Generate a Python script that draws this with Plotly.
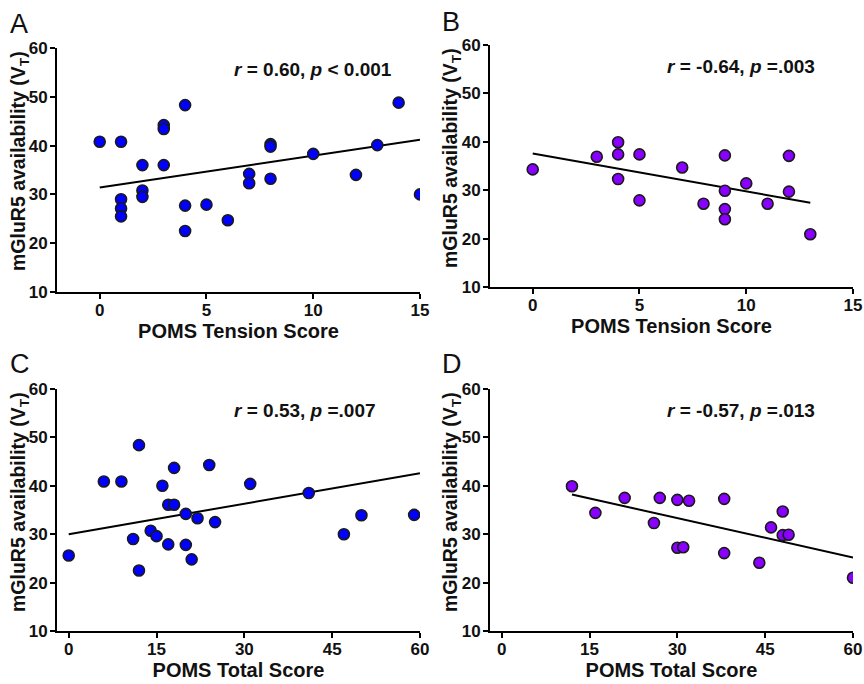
import plotly.graph_objects as go

# Panel A: POMS Tension vs mGluR5 (blue group)
a_x = [0, 1, 1, 1, 1, 2, 2, 2, 3, 3, 3, 4, 4, 4, 5, 6, 7, 7, 8, 8, 8, 10, 12, 13, 14, 15]
a_y = [40.8, 40.8, 29.0, 27.1, 25.5, 36.0, 30.8, 29.5, 44.2, 43.4, 36.0, 48.3, 27.7, 22.5,
       27.9, 24.7, 34.2, 32.3, 40.3, 39.8, 33.2, 38.3, 34.0, 40.1, 48.8, 30.0]
# Panel B: POMS Tension vs mGluR5 (purple group)
b_x = [0, 3, 4, 4, 4, 5, 5, 7, 8, 9, 9, 9, 9, 10, 11, 12, 12, 13]
b_y = [34.3, 36.9, 39.9, 37.4, 32.3, 37.4, 27.9, 34.7, 27.2, 37.2, 29.9, 26.1, 24.0,
       31.4, 27.2, 37.1, 29.7, 20.9]
# Panel C: POMS Total vs mGluR5 (blue group)
c_x = [0, 6, 9, 12, 12, 11, 14, 15, 16, 17, 18, 18, 17, 20, 20, 21, 22, 24, 25, 31, 41, 47, 50, 59]
c_y = [25.6, 40.9, 40.9, 48.4, 22.5, 29.0, 30.7, 29.6, 40.0, 36.1, 36.1, 43.7, 27.9, 34.2,
       27.8, 24.8, 33.3, 44.3, 32.5, 40.4, 38.5, 30.0, 33.9, 34.0]
# Panel D: POMS Total vs mGluR5 (purple group)
d_x = [12, 16, 21, 26, 27, 30, 32, 30, 31, 38, 38, 44, 46, 48, 48, 49, 60]
d_y = [39.9, 34.4, 37.5, 32.3, 37.5, 37.1, 36.9, 27.2, 27.3, 37.3, 26.1, 24.1, 31.4,
       34.7, 29.8, 29.9, 21.0]

# Regression lines as drawn (endpoints)
fit_a_x, fit_a_y = [0, 15], [31.4, 41.2]
fit_b_x, fit_b_y = [0, 13], [37.6, 27.4]
fit_c_x, fit_c_y = [0, 60], [30.0, 42.6]
fit_d_x, fit_d_y = [12, 60], [38.2, 25.2]

stats = ["<i>r</i> = 0.60, <i>p</i> < 0.001",
         "<i>r</i> = -0.64, <i>p</i> =.003",
         "<i>r</i> = 0.53, <i>p</i> =.007",
         "<i>r</i> = -0.57, <i>p</i> =.013"]
letters = ["A", "B", "C", "D"]
x_titles = ["POMS Tension Score", "POMS Tension Score", "POMS Total Score", "POMS Total Score"]
y_title = "mGluR5 availability (V<sub>T</sub>)"
x_ranges = [[-2, 15], [-2, 15], [-2, 60], [-2, 60]]
x_ticks = [[0, 5, 10, 15], [0, 5, 10, 15], [0, 15, 30, 45, 60], [0, 15, 30, 45, 60]]
y_ticks = [10, 20, 30, 40, 50, 60]

BLUE = "#0000FF"
PURPLE = "#8A00FF"
colors = [BLUE, PURPLE, BLUE, PURPLE]
datasets = [(a_x, a_y), (b_x, b_y), (c_x, c_y), (d_x, d_y)]
fits = [(fit_a_x, fit_a_y), (fit_b_x, fit_b_y), (fit_c_x, fit_c_y), (fit_d_x, fit_d_y)]

W, H = 864, 684
# plot-area boxes in pixels: (left, right, top, bottom)
boxes = [(57, 420, 48, 292), (490, 853, 45, 287), (57, 420, 389, 631), (490, 853, 389, 631)]
letter_pos = [(8, 24), (440, 22), (8, 364), (440, 364)]
ytitle_pos = [(19, 161), (451, 158), (19, 502), (451, 502)]

FONT = "Liberation Sans, Arial, Helvetica, sans-serif"
TXT = "#111111"

fig = go.Figure()
for i, ((xs, ys), (fx, fy), col) in enumerate(zip(datasets, fits, colors)):
    n = i + 1
    xa = "x" if n == 1 else f"x{n}"
    ya = "y" if n == 1 else f"y{n}"
    fig.add_trace(go.Scatter(x=fx, y=fy, mode="lines",
                             line=dict(color="black", width=2),
                             xaxis=xa, yaxis=ya, showlegend=False, hoverinfo="skip"))
    fig.add_trace(go.Scatter(x=xs, y=ys, mode="markers",
                             marker=dict(color=col, size=11,
                                         line=dict(color="#1a1a1a", width=1.6)),
                             xaxis=xa, yaxis=ya, showlegend=False))

    l, r, t, b = boxes[i]
    axis_common = dict(showgrid=False, zeroline=False, showline=True, linecolor="black",
                       linewidth=2, ticks="outside", ticklen=5, tickwidth=2, tickcolor="black",
                       tickfont=dict(family=FONT, size=17, color=TXT, weight="bold"),
                       automargin=False)
    xkey = "xaxis" if n == 1 else f"xaxis{n}"
    ykey = "yaxis" if n == 1 else f"yaxis{n}"
    fig.update_layout(**{
        xkey: dict(domain=[l / W, r / W], range=x_ranges[i], tickvals=x_ticks[i],
                   anchor=ya, ticklabelstandoff=-3,
                   title=dict(text=x_titles[i], standoff=3,
                              font=dict(family=FONT, size=20, color=TXT, weight="bold")),
                   **axis_common),
        ykey: dict(domain=[1 - b / H, 1 - t / H], range=[10, 60], tickvals=y_ticks,
                   anchor=xa, ticklabelstandoff=-1, **axis_common),
    })
    fig.add_annotation(xref=f"{xa} domain", yref=f"{ya} domain", x=0.483, y=0.91,
                       xanchor="left", yanchor="middle", showarrow=False,
                       text=stats[i],
                       font=dict(family=FONT, size=19, color=TXT, weight="bold"))
    tx, ty = ytitle_pos[i]
    fig.add_annotation(xref="paper", yref="paper", x=tx / W, y=1 - ty / H,
                       xanchor="center", yanchor="middle", showarrow=False, textangle=-90,
                       text=y_title,
                       font=dict(family=FONT, size=19.5, color=TXT, weight="bold"))
    lx, ly = letter_pos[i]
    fig.add_annotation(xref="paper", yref="paper", x=lx / W, y=1 - ly / H,
                       xanchor="left", yanchor="middle", showarrow=False,
                       text=letters[i], font=dict(family=FONT, size=27, color=TXT))

fig.update_layout(width=W, height=H, margin=dict(l=0, r=0, t=0, b=0),
                  plot_bgcolor="white", paper_bgcolor="white")
fig.write_html("out.html", config={"displayModeBar": False},
               post_script="document.body.style.margin='0';")
